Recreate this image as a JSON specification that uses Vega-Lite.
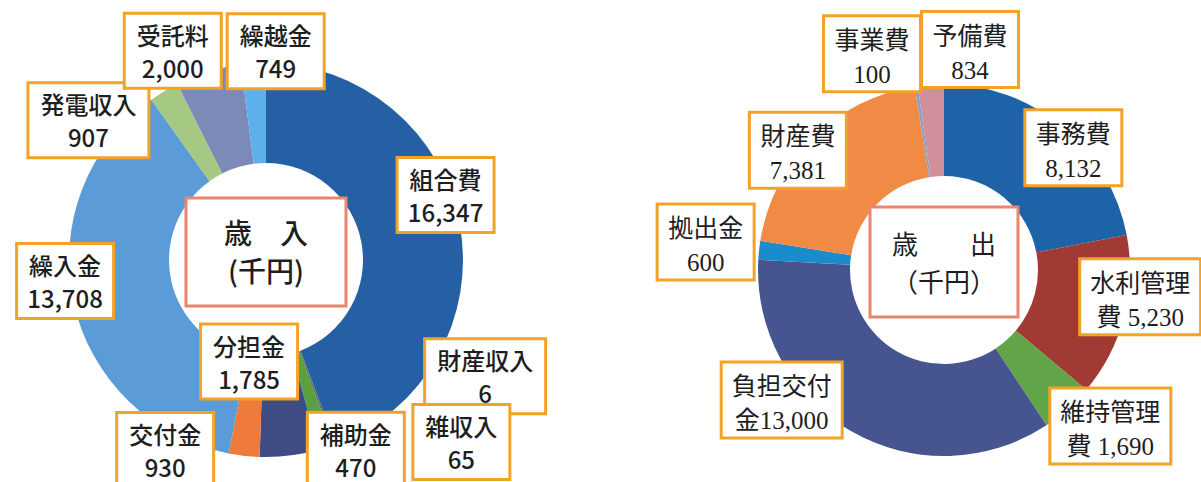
{
  "$schema": "https://vega.github.io/schema/vega-lite/v6.json",
  "padding": 0,
  "background": "white",
  "spacing": 155,
  "bounds": "flush",
  "config": {"view": {"stroke": null}},
  "resolve": {"scale": {"color": "independent", "theta": "independent", "x": "independent", "y": "independent"}},
  "datasets": {
    "revenue": [
      {"idx": 1, "item": "組合費", "value": 16347, "line1": "組合費", "line2": "16,347"},
      {"idx": 2, "item": "財産収入", "value": 6, "line1": "財産収入", "line2": "6"},
      {"idx": 3, "item": "雑収入", "value": 65, "line1": "雑収入", "line2": "65"},
      {"idx": 4, "item": "補助金", "value": 470, "line1": "補助金", "line2": "470"},
      {"idx": 5, "item": "分担金", "value": 1785, "line1": "分担金", "line2": "1,785"},
      {"idx": 6, "item": "交付金", "value": 930, "line1": "交付金", "line2": "930"},
      {"idx": 7, "item": "繰入金", "value": 13708, "line1": "繰入金", "line2": "13,708"},
      {"idx": 8, "item": "発電収入", "value": 907, "line1": "発電収入", "line2": "907"},
      {"idx": 9, "item": "受託料", "value": 2000, "line1": "受託料", "line2": "2,000"},
      {"idx": 10, "item": "繰越金", "value": 749, "line1": "繰越金", "line2": "749"}
    ],
    "expense": [
      {"idx": 1, "item": "事務費", "value": 8132, "line1": "事務費", "line2": "8,132"},
      {"idx": 2, "item": "水利管理費", "value": 5230, "line1": "水利管理", "line2": "費 5,230"},
      {"idx": 3, "item": "維持管理費", "value": 1690, "line1": "維持管理", "line2": "費 1,690"},
      {"idx": 4, "item": "負担交付金", "value": 13000, "line1": "負担交付", "line2": "金13,000"},
      {"idx": 5, "item": "拠出金", "value": 600, "line1": "拠出金", "line2": "600"},
      {"idx": 6, "item": "財産費", "value": 7381, "line1": "財産費", "line2": "7,381"},
      {"idx": 7, "item": "事業費", "value": 100, "line1": "事業費", "line2": "100"},
      {"idx": 8, "item": "予備費", "value": 834, "line1": "予備費", "line2": "834"}
    ],
    "revenueTitle": [{"t1": "歳　入", "t2": "(千円)"}],
    "expenseTitle": [{"t1": "歳　　出", "t2": "（千円）"}]
  },
  "hconcat": [
    {
      "width": 532,
      "height": 520,
      "layer": [
        {
          "data": {"name": "revenue"},
          "mark": {"type": "arc", "outerRadius": 197, "innerRadius": 97},
          "encoding": {
            "theta": {"field": "value", "type": "quantitative", "stack": true},
            "order": {"field": "idx", "type": "quantitative"},
            "color": {
              "field": "item",
              "type": "nominal",
              "legend": null,
              "scale": {
                "domain": ["組合費", "財産収入", "雑収入", "補助金", "分担金", "交付金", "繰入金", "発電収入", "受託料", "繰越金"],
                "range": ["#2660a4", "#9e480e", "#636363", "#5aa040", "#3f4c84", "#ee7b3a", "#5b9bd8", "#a5c882", "#7c8ab8", "#5eb0ea"]
              }
            }
          }
        },
        {
          "data": {"name": "revenue"},
          "transform": [
            {"joinaggregate": [{"op": "sum", "field": "value", "as": "total"}]},
            {"window": [{"op": "sum", "field": "value", "as": "cum"}], "sort": [{"field": "idx"}], "frame": [null, 0]},
            {"calculate": "(datum.cum - datum.value / 2) / datum.total * 360", "as": "midDeg"},
            {"calculate": "(datum.midDeg + {'組合費': -9.5, '財産収入': -41.3, '雑収入': -26.6, '補助金': -7.5, '分担金': 16.3, '交付金': 21.6, '繰入金': 6.4, '発電収入': -20.6, '受託料': -7.0, '繰越金': 6.3}[datum.item]) * PI / 180", "as": "la"},
            {"calculate": "{'組合費': 191, '財産収入': 248, '雑収入': 267, '補助金': 210, '分担金': 103, '交付金': 215, '繰入金': 202, '発電収入': 226, '受託料': 229, '繰越金': 209}[datum.item]", "as": "lr"},
            {"calculate": "datum.lr * sin(datum.la)", "as": "lx"},
            {"calculate": "datum.lr * cos(datum.la)", "as": "ly"},
            {"calculate": "(length(datum.line1) * 24 + 25) / 2", "as": "hw"},
            {"calculate": "datum.lx - datum.hw", "as": "bx1"},
            {"calculate": "datum.lx + datum.hw", "as": "bx2"},
            {"calculate": "datum.ly - 37.5", "as": "by1"},
            {"calculate": "datum.ly + 37.5", "as": "by2"},
            {"calculate": "[datum.line1, datum.line2]", "as": "lines"}
          ],
          "layer": [
            {
              "mark": {"type": "rect", "fill": "white", "stroke": "#f2a227", "strokeWidth": 3},
              "encoding": {
                "x": {"field": "bx1", "type": "quantitative", "scale": {"domain": [-266, 266], "nice": false, "zero": false}, "axis": null},
                "x2": {"field": "bx2"},
                "y": {"field": "by1", "type": "quantitative", "scale": {"domain": [-260, 260], "nice": false, "zero": false}, "axis": null},
                "y2": {"field": "by2"}
              }
            },
            {
              "mark": {"type": "text", "font": "Noto Sans CJK JP", "fontSize": 24, "fontWeight": 500, "lineHeight": 33, "dy": -13, "align": "center", "baseline": "middle", "color": "#1e1e1e"},
              "encoding": {
                "x": {"field": "lx", "type": "quantitative"},
                "y": {"field": "ly", "type": "quantitative"},
                "text": {"field": "lines", "type": "nominal"}
              }
            }
          ]
        },
        {
          "data": {"name": "revenueTitle"},
          "transform": [{"calculate": "[datum.t1, datum.t2]", "as": "lines"}],
          "layer": [
            {
              "mark": {"type": "rect", "fill": "white", "stroke": "#e8866e", "strokeWidth": 3},
              "encoding": {
                "x": {"datum": -80, "type": "quantitative"},
                "x2": {"datum": 80},
                "y": {"datum": -46, "type": "quantitative"},
                "y2": {"datum": 62}
              }
            },
            {
              "mark": {"type": "text", "font": "Noto Sans CJK JP", "fontSize": 28, "fontWeight": 500, "lineHeight": 38, "dy": -16, "align": "center", "baseline": "middle", "color": "#1e1e1e"},
              "encoding": {
                "x": {"datum": 0, "type": "quantitative"},
                "y": {"datum": 8, "type": "quantitative"},
                "text": {"field": "lines", "type": "nominal"}
              }
            }
          ]
        }
      ]
    },
    {
      "width": 514,
      "height": 540,
      "layer": [
        {
          "data": {"name": "expense"},
          "mark": {"type": "arc", "outerRadius": 186, "innerRadius": 94},
          "encoding": {
            "theta": {"field": "value", "type": "quantitative", "stack": true},
            "order": {"field": "idx", "type": "quantitative"},
            "color": {
              "field": "item",
              "type": "nominal",
              "legend": null,
              "scale": {
                "domain": ["事務費", "水利管理費", "維持管理費", "負担交付金", "拠出金", "財産費", "事業費", "予備費"],
                "range": ["#1e63a8", "#a13a33", "#62a548", "#46558f", "#1a8ccc", "#f08a45", "#8f9fc0", "#cf909c"]
              }
            }
          }
        },
        {
          "data": {"name": "expense"},
          "transform": [
            {"joinaggregate": [{"op": "sum", "field": "value", "as": "total"}]},
            {"window": [{"op": "sum", "field": "value", "as": "cum"}], "sort": [{"field": "idx"}], "frame": [null, 0]},
            {"calculate": "(datum.cum - datum.value / 2) / datum.total * 360", "as": "midDeg"},
            {"calculate": "(datum.midDeg + {'事務費': 7.0, '水利管理費': -6.9, '維持管理費': -5.2, '負担交付金': 21.4, '拠出金': 0.6, '財産費': -5.6, '事業費': -9.8, '予備費': 10.8}[datum.item]) * PI / 180", "as": "la"},
            {"calculate": "{'事務費': 178, '水利管理費': 198, '維持管理費': 228, '負担交付金': 208, '拠出金': 240, '財産費': 189, '事業費': 228, '予備費': 222}[datum.item]", "as": "lr"},
            {"calculate": "datum.lr * sin(datum.la)", "as": "lx"},
            {"calculate": "datum.lr * cos(datum.la)", "as": "ly"},
            {"calculate": "(length(datum.line1) * 24 + 25) / 2", "as": "hw"},
            {"calculate": "datum.lx - datum.hw", "as": "bx1"},
            {"calculate": "datum.lx + datum.hw", "as": "bx2"},
            {"calculate": "datum.ly - 38", "as": "by1"},
            {"calculate": "datum.ly + 38", "as": "by2"},
            {"calculate": "[datum.line1, datum.line2]", "as": "lines"}
          ],
          "layer": [
            {
              "mark": {"type": "rect", "fill": "white", "stroke": "#f2a227", "strokeWidth": 3},
              "encoding": {
                "x": {"field": "bx1", "type": "quantitative", "scale": {"domain": [-257, 257], "nice": false, "zero": false}, "axis": null},
                "x2": {"field": "bx2"},
                "y": {"field": "by1", "type": "quantitative", "scale": {"domain": [-270, 270], "nice": false, "zero": false}, "axis": null},
                "y2": {"field": "by2"}
              }
            },
            {
              "mark": {"type": "text", "font": "Liberation Serif, Noto Sans CJK JP", "fontSize": 25, "lineHeight": 34, "dy": -13, "align": "center", "baseline": "middle", "color": "#1e1e1e"},
              "encoding": {
                "x": {"field": "lx", "type": "quantitative"},
                "y": {"field": "ly", "type": "quantitative"},
                "text": {"field": "lines", "type": "nominal"}
              }
            }
          ]
        },
        {
          "data": {"name": "expenseTitle"},
          "transform": [{"calculate": "[datum.t1, datum.t2]", "as": "lines"}],
          "layer": [
            {
              "mark": {"type": "rect", "fill": "white", "stroke": "#e8866e", "strokeWidth": 3},
              "encoding": {
                "x": {"datum": -74, "type": "quantitative"},
                "x2": {"datum": 74},
                "y": {"datum": -47, "type": "quantitative"},
                "y2": {"datum": 63}
              }
            },
            {
              "mark": {"type": "text", "font": "Liberation Serif, Noto Sans CJK JP", "fontSize": 26, "lineHeight": 38, "dy": -16, "align": "center", "baseline": "middle", "color": "#1e1e1e"},
              "encoding": {
                "x": {"datum": 0, "type": "quantitative"},
                "y": {"datum": 8, "type": "quantitative"},
                "text": {"field": "lines", "type": "nominal"}
              }
            }
          ]
        }
      ]
    }
  ]
}
